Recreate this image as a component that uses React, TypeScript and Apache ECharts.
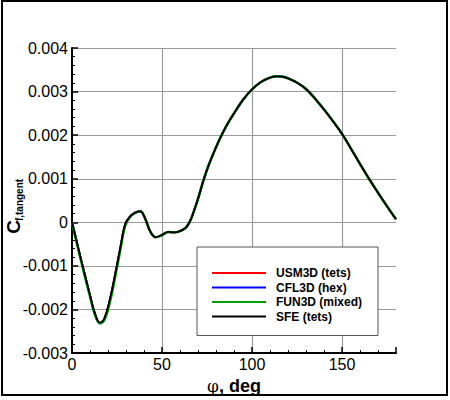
import React, { useEffect, useRef } from "react";
import * as echarts from "echarts";

const phi = [0, 2.5, 5, 7.5, 10, 12.5, 15.5, 18, 21, 24, 27, 29.5, 32, 35, 38, 40.5, 43.5, 46.5, 50, 53.5, 57, 60, 63, 65, 67, 70, 73, 76, 80, 82.5, 86, 90, 95, 100, 105, 110, 114, 118, 122, 126, 130, 135, 140, 145, 150, 155, 160, 165, 170, 175, 180];

const usm3d = [0, -0.00042, -0.00085, -0.00126, -0.00167, -0.00206, -0.00231, -0.00221, -0.00178, -0.00119, -0.00055, -0.00005, 0.00012, 0.00022, 0.00025, 0.0001, -0.00021, -0.00034, -0.00029, -0.00022, -0.00023, -0.0002, -0.00013, -0.00002, 0.00017, 0.00054, 0.00096, 0.00132, 0.00172, 0.00195, 0.00223, 0.0025, 0.00281, 0.00305, 0.00322, 0.00332, 0.00335, 0.00333, 0.00327, 0.00318, 0.00306, 0.00284, 0.00259, 0.00232, 0.00203, 0.00169, 0.00134, 0.001, 0.00068, 0.00037, 0.00007];

const cfl3d = [0, -0.00042, -0.00086, -0.00127, -0.00168, -0.00207, -0.00232, -0.00222, -0.00179, -0.0012, -0.00056, -0.00005, 0.00012, 0.00022, 0.00025, 0.0001, -0.00021, -0.00034, -0.00029, -0.00022, -0.00023, -0.0002, -0.00013, -0.00002, 0.00017, 0.00054, 0.00096, 0.00132, 0.00172, 0.00195, 0.00223, 0.0025, 0.00281, 0.00305, 0.00322, 0.00332, 0.00336, 0.00334, 0.00327, 0.00318, 0.00306, 0.00284, 0.00259, 0.00232, 0.00203, 0.00169, 0.00134, 0.001, 0.00068, 0.00037, 0.00007];

const fun3d = [0, -0.00045, -0.00088, -0.0013, -0.0017, -0.00209, -0.00231, -0.00224, -0.00184, -0.00125, -0.0006, -0.00008, 0.00011, 0.00022, 0.00025, 0.0001, -0.00021, -0.00034, -0.00029, -0.00022, -0.00023, -0.0002, -0.00013, -0.00002, 0.00017, 0.00054, 0.00096, 0.00132, 0.00172, 0.00195, 0.00223, 0.0025, 0.00281, 0.00305, 0.00322, 0.00332, 0.00335, 0.00333, 0.00327, 0.00318, 0.00306, 0.00284, 0.00259, 0.00232, 0.00203, 0.00169, 0.00134, 0.001, 0.00068, 0.00037, 0.00007];

const sfe = [0, -0.00042, -0.00085, -0.00126, -0.00167, -0.00206, -0.0023, -0.0022, -0.00178, -0.00119, -0.00055, -0.00005, 0.00012, 0.00022, 0.00025, 0.0001, -0.00021, -0.00034, -0.00029, -0.00022, -0.00023, -0.0002, -0.00013, -0.00002, 0.00017, 0.00054, 0.00096, 0.00132, 0.00172, 0.00195, 0.00223, 0.0025, 0.00281, 0.00305, 0.00322, 0.00332, 0.00335, 0.00333, 0.00327, 0.00318, 0.00306, 0.00284, 0.00259, 0.00232, 0.00203, 0.00169, 0.00134, 0.001, 0.00068, 0.00037, 0.00007];

const seriesNames = ["USM3D (tets)", "CFL3D (hex)", "FUN3D (mixed)", "SFE (tets)"];
const seriesColors = ["#ff0000", "#0000ff", "#00a000", "#000000"];
const seriesValues = [usm3d, cfl3d, fun3d, sfe];
const seriesWidths = [2, 2, 2.5, 1.8];

const FONT = "'Liberation Sans', Arial, Helvetica, sans-serif";

export default function App() {
  const ref = useRef<HTMLDivElement>(null);
  useEffect(() => {
    if (!ref.current) return;
    const chart = echarts.init(ref.current, null, { renderer: "svg" });
    const option = {
      animation: false,
      backgroundColor: "#ffffff",
      grid: { left: 72, right: 54, top: 48, bottom: 45, containLabel: false },
      xAxis: {
        type: "value",
        min: 0,
        max: 180,
        interval: 50,
        name: "{p|\u03c6}{d|, deg}",
        nameLocation: "middle",
        nameGap: 17,
        nameTextStyle: {
          verticalAlign: "top",
          rich: {
            p: { fontFamily: "'DejaVu Serif', serif", fontSize: 17, color: "#000" },
            d: { fontFamily: FONT, fontSize: 18, fontWeight: "bold", color: "#000" },
          },
        },
        axisLine: { show: true, onZero: false, lineStyle: { color: "#000", width: 2 } },
        axisTick: { show: true, inside: true, length: 6, lineStyle: { color: "#000", width: 1.5 } },
        minorTick: { show: true, splitNumber: 5, length: 3, lineStyle: { color: "#000", width: 1 } },
        axisLabel: {
          show: true,
          showMaxLabel: false,
          fontFamily: FONT,
          fontSize: 16,
          color: "#000",
          margin: 3,
        },
        splitLine: { show: true, showMaxLine: false, lineStyle: { color: "#9a9a9a", width: 1.2 } },
      },
      yAxis: {
        type: "value",
        min: -0.003,
        max: 0.004,
        interval: 0.001,
        axisLine: { show: true, onZero: false, lineStyle: { color: "#000", width: 2 } },
        axisTick: { show: true, inside: true, length: 6, lineStyle: { color: "#000", width: 1.5 } },
        minorTick: { show: true, splitNumber: 5, length: 3, lineStyle: { color: "#000", width: 1 } },
        axisLabel: {
          fontFamily: FONT,
          fontSize: 16,
          color: "#000",
          margin: 4,
          formatter: (v: number) => (Math.abs(v) < 1e-9 ? "0" : v.toFixed(3)),
        },
        splitLine: { show: true, showMinLine: false, lineStyle: { color: "#9a9a9a", width: 1.2 } },
      },
      legend: {
        show: true,
        orient: "vertical",
        left: 197,
        top: 247,
        backgroundColor: "#ffffff",
        borderColor: "#555555",
        borderWidth: 1,
        borderRadius: 0,
        padding: [20, 16, 13, 15],
        itemGap: 2.5,
        itemWidth: 54,
        itemHeight: 2,
        icon: "rect",
        data: seriesNames,
        textStyle: {
          fontFamily: FONT,
          fontSize: 12,
          fontWeight: "bold",
          color: "#000",
          padding: [0, 0, 0, 5],
        },
      },
      graphic: [
        {
          type: "rect",
          shape: { x: 2, y: 1, width: 445, height: 394 },
          style: { fill: "none", stroke: "#000", lineWidth: 2 },
          silent: true,
        },
        {
          type: "text",
          x: 13,
          y: 227,
          rotation: Math.PI / 2,
          style: {
            text: "C",
            font: "bold 19px 'Liberation Sans', Arial, sans-serif",
            fill: "#000",
            align: "center",
            verticalAlign: "middle",
          },
          silent: true,
        },
        {
          type: "text",
          x: 19,
          y: 200,
          rotation: Math.PI / 2,
          style: {
            text: "f,tangent",
            font: "bold 10px 'Liberation Sans', Arial, sans-serif",
            fill: "#000",
            align: "center",
            verticalAlign: "middle",
          },
          silent: true,
        },
      ],
      series: seriesNames.map((name, i) => ({
        name,
        type: "line",
        data: phi.map((p, j) => [p, seriesValues[i][j]]),
        smooth: 0.4,
        showSymbol: false,
        symbol: "none",
        color: seriesColors[i],
        lineStyle: { color: seriesColors[i], width: seriesWidths[i] },
        z: 2 + i,
      })),
    };
    chart.setOption(option as any);
    return () => chart.dispose();
  }, []);
  return (
    <div
      ref={ref}
      style={{ position: "absolute", left: 0, top: 0, width: 450, height: 400 }}
    />
  );
}
